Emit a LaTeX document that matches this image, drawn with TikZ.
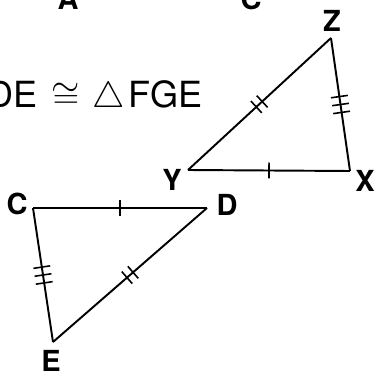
\documentclass[tikz,border=0pt]{standalone}
\usepackage{fontspec}
\setmainfont{TeX Gyre Heros}
\usetikzlibrary{decorations.markings}
\tikzset{
  side/.style={line width=1.1pt,line join=miter},
  vlabel/.style={font=\fontsize{16.5}{18}\selectfont\bfseries,inner sep=0pt},
  tickone/.style={postaction={decorate},decoration={markings,
    mark=at position 0.5 with {\draw[line width=0.9pt] (0,-0.16cm) -- (0,0.16cm);}}},
  ticktwo/.style={postaction={decorate},decoration={markings,
    mark=at position 0.5 with {\draw[line width=0.9pt] (-0.08cm,-0.16cm) -- (-0.08cm,0.16cm)
      (0.08cm,-0.16cm) -- (0.08cm,0.16cm);}}},
  tickthree/.style={postaction={decorate},decoration={markings,
    mark=at position 0.5 with {\draw[line width=0.9pt] (-0.16cm,-0.17cm) -- (-0.16cm,0.17cm)
      (0,-0.17cm) -- (0,0.17cm) (0.16cm,-0.17cm) -- (0.16cm,0.17cm);}}}
}
\begin{document}
\begin{tikzpicture}[x=0.02cm,y=-0.02cm]
\useasboundingbox (0,0) rectangle (376,372);
% labels cut off at the top
\node[vlabel,anchor=base] (topA) at (68,10) {A};
\node[vlabel,anchor=base] (topC) at (251,10) {C};
% statement
\node[anchor=base east,inner sep=0pt,font=\fontsize{20.5}{24}\selectfont] (stmt) at (203,108)
  {DE\hspace{8.2pt}$\cong$\hspace{7.1pt}$\triangle$\hspace{2pt}FGE};
% triangle XYZ
\coordinate (Z) at (331,38);
\coordinate (X) at (350,171);
\coordinate (Y) at (188,170);
\draw[side,ticktwo] (Y) -- (Z);
\draw[side,tickthree] (Z) -- (X);
\draw[side,tickone] (X) -- (Y);
\node[vlabel] (lZ) at (332,21) {Z};
\node[vlabel] (lX) at (365,181) {X};
\node[vlabel] (lY) at (172,180) {Y};
% triangle CDE
\coordinate (C) at (33,208);
\coordinate (D) at (207,208);
\coordinate (E) at (53,342);
\draw[side,tickone] (C) -- (D);
\draw[side,ticktwo] (D) -- (E);
\draw[side,tickthree] (E) -- (C);
\node[vlabel] (lC) at (17,204) {C};
\node[vlabel] (lD) at (227,205) {D};
\node[vlabel] (lE) at (51,361) {E};
\end{tikzpicture}
\end{document}
